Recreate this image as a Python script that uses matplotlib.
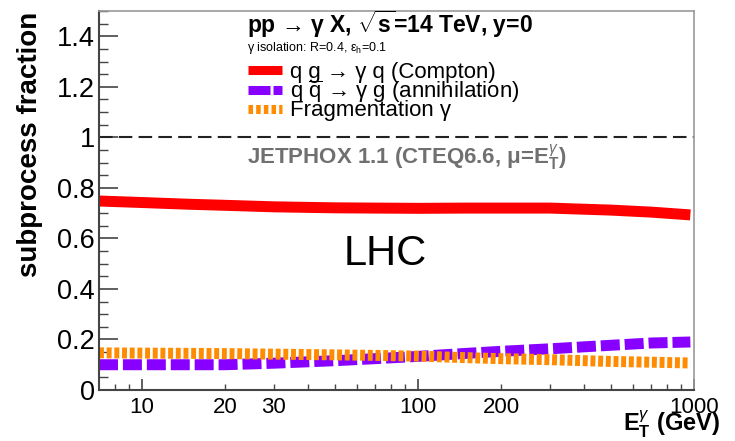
import matplotlib
matplotlib.use("Agg")
import matplotlib.pyplot as plt
from matplotlib.lines import Line2D
from matplotlib.ticker import FixedLocator, FuncFormatter

plt.rcParams['font.family'] = ['Liberation Sans', 'DejaVu Sans']
plt.rcParams['mathtext.fontset'] = 'custom'
plt.rcParams['mathtext.rm'] = 'Liberation Sans'
plt.rcParams['mathtext.it'] = 'Liberation Sans:italic'
plt.rcParams['mathtext.bf'] = 'Liberation Sans:bold'

# ---- data ----
et = [7, 10, 15, 20, 30, 50, 70, 100, 150, 200, 300, 500, 700, 970]
compton = [0.748, 0.742, 0.735, 0.731, 0.725, 0.721, 0.720, 0.719, 0.720, 0.720, 0.720, 0.712, 0.704, 0.693]
annihilation = [0.100, 0.100, 0.100, 0.100, 0.106, 0.116, 0.124, 0.133, 0.145, 0.153, 0.163, 0.177, 0.186, 0.190]
fragmentation = [0.147, 0.146, 0.145, 0.144, 0.142, 0.139, 0.137, 0.134, 0.128, 0.124, 0.120, 0.113, 0.110, 0.107]

labels = ["q g → γ q (Compton)",
          r"q $\overline{\mathrm{q}}$ → γ g (annihilation)",
          "Fragmentation γ"]
x_major = [10, 100, 1000]
x_minor = [8, 9, 20, 30, 40, 50, 60, 70, 80, 90, 200, 300, 400, 500, 600, 700, 800, 900]
x_minor_labeled = [20, 30, 200]
y_ticks = [0, 0.2, 0.4, 0.6, 0.8, 1.0, 1.2, 1.4]

RED = '#ff0000'
PURPLE = '#8800ff'
ORANGE = '#ff8c00'

W, H = 735, 441
fig = plt.figure(figsize=(W / 100, H / 100), dpi=100)
ax = fig.add_axes([99 / W, 1 - 390 / H, (694 - 99) / W, (390 - 11) / H])

lw = 7.9
ax.plot(et, compton, color=RED, lw=lw, solid_capstyle='butt')
ax.plot(et, annihilation, color=PURPLE, lw=lw, dash_capstyle='butt',
        linestyle=(0, (1.73, 0.45)))
ax.plot(et, fragmentation, color=ORANGE, lw=lw, dash_capstyle='butt',
        linestyle=(0, (0.45, 0.25)))
ax.axhline(1.0, color='#222222', lw=1.5, linestyle=(0, (6.5, 3)))

ax.set_xscale('log')
ax.set_xlim(7, 1000)
ax.set_ylim(0, 1.5)

ax.xaxis.set_major_locator(FixedLocator(x_major))
ax.xaxis.set_minor_locator(FixedLocator(x_minor))
ax.xaxis.set_major_formatter(FuncFormatter(lambda v, p: f"{v:g}"))
ax.xaxis.set_minor_formatter(FuncFormatter(
    lambda v, p: f"{v:g}" if any(abs(v - m) < 1e-6 for m in x_minor_labeled) else ""))
ax.set_yticks(y_ticks)
ax.yaxis.set_minor_locator(FixedLocator([i * 0.05 for i in range(31)]))
ax.yaxis.set_major_formatter(FuncFormatter(lambda v, p: f"{v:g}"))

ax.tick_params(axis='x', which='both', direction='in', labelsize=16, pad=5,
               color='#444444', top=False)
ax.tick_params(axis='x', which='major', length=8, width=1.2)
ax.tick_params(axis='x', which='minor', length=4.3, width=1.0)
ax.tick_params(axis='y', which='both', direction='in', labelsize=19.5, pad=3,
               color='#444444', right=False)
ax.tick_params(axis='y', which='major', length=13.5, width=1.2)
ax.tick_params(axis='y', which='minor', length=6.5, width=1.0)

for s in ['left', 'bottom']:
    ax.spines[s].set_color('#444444')
    ax.spines[s].set_linewidth(1.5)
for s in ['top', 'right']:
    ax.spines[s].set_color('#999999')
    ax.spines[s].set_linewidth(1.2)

# legend
handles = [
    Line2D([], [], color=RED, lw=6.5, solid_capstyle='butt'),
    Line2D([], [], color=PURPLE, lw=6.5, dash_capstyle='butt', linestyle=(0, (2.44, 0.33))),
    Line2D([], [], color=ORANGE, lw=6.5, dash_capstyle='butt', linestyle=(0, (0.5, 0.35))),
]
ax.legend(handles, labels, loc='center left',
          bbox_to_anchor=(248 / W, 1 - 91.5 / H), bbox_transform=fig.transFigure,
          frameon=False, fontsize=16, labelspacing=-0.2, handlelength=1.53,
          handletextpad=0.36, borderpad=0, borderaxespad=0)

# annotations
fig.text(247 / W, 1 - 33.5 / H, r"pp → γ X, $\sqrt{\mathbf{s}}$=14 TeV, y=0",
         fontsize=16.5, fontweight='bold', ha='left', va='baseline')
fig.text(247 / W, 1 - 51 / H, r"γ isolation: R=0.4, ε$_{\rm h}$=0.1",
         fontsize=9, ha='left', va='baseline')
fig.text(407 / W, 1 - 164 / H, r"JETPHOX 1.1 (CTEQ6.6, μ=$\mathbf{E}_{\mathbf{T}}^{\gamma}$)",
         fontsize=16, fontweight='bold', color='#707070', ha='center', va='baseline')
fig.text(385 / W, 1 - 265 / H, "LHC", fontsize=30, ha='center', va='baseline')

fig.text(30 / W, 1 - 144 / H, "subprocess fraction", rotation=90, fontsize=20,
         fontweight='bold', ha='center', va='center')
fig.text(720 / W, 1 - 439.5 / H, r"$\mathbf{E}_{\mathbf{T}}^{\gamma}$ (GeV)", fontsize=17,
         fontweight='bold', ha='right', va='bottom')

fig.savefig("out.png", dpi=100)
